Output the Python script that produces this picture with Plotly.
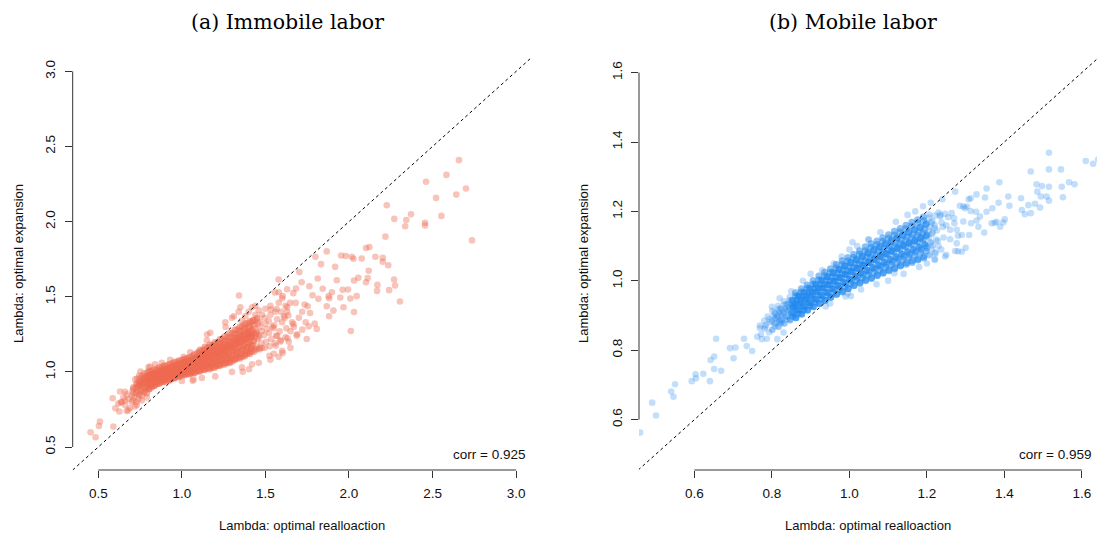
import plotly.graph_objects as go

# ---------------- data ----------------
# (a) Immobile labor: (realloaction lambda, expansion lambda)
immobile_core = [
    (0.715,0.83),(0.725,0.86),(0.71,0.89),(0.73,0.92),(0.72,0.95),(0.705,0.875),(0.728,0.80),
    (0.748,0.85),(0.755,0.88),(0.742,0.90),(0.758,0.93),(0.751,0.96),(0.745,0.975),(0.76,0.84),(0.75,0.915),
    (0.776,0.87),(0.784,0.895),(0.772,0.92),(0.788,0.945),(0.78,0.97),(0.775,0.99),(0.79,0.86),(0.782,0.93),(0.77,0.955),
    (0.806,0.89),(0.815,0.915),(0.802,0.94),(0.818,0.96),(0.81,0.985),(0.805,1.005),(0.82,0.90),(0.812,0.95),(0.80,0.97),
    (0.836,0.91),(0.845,0.93),(0.832,0.955),(0.848,0.975),(0.84,0.995),(0.835,1.015),(0.85,0.92),(0.842,0.965),(0.83,0.985),
    (0.866,0.925),(0.875,0.945),(0.862,0.97),(0.878,0.99),(0.87,1.01),(0.865,1.03),(0.88,0.935),(0.872,0.98),(0.86,1.00),(0.874,0.96),
    (0.896,0.935),(0.905,0.955),(0.892,0.98),(0.908,1.0),(0.90,1.02),(0.895,1.04),(0.91,0.945),(0.902,0.99),(0.89,1.01),(0.904,0.97),
    (0.926,0.945),(0.935,0.965),(0.922,0.99),(0.938,1.01),(0.93,1.03),(0.925,1.05),(0.94,0.955),(0.932,1.0),(0.92,1.02),(0.934,0.98),
    (0.956,0.96),(0.965,0.98),(0.952,1.005),(0.968,1.025),(0.96,1.045),(0.955,1.065),(0.97,0.97),(0.962,1.015),(0.95,1.035),(0.964,0.995),
    (0.986,0.97),(0.995,0.99),(0.982,1.015),(0.998,1.035),(0.99,1.055),(0.985,1.075),(1.0,0.98),(0.992,1.025),(0.98,1.045),(0.994,1.005),
    (1.016,0.98),(1.025,1.0),(1.012,1.025),(1.028,1.045),(1.02,1.065),(1.015,1.085),(1.03,0.99),(1.022,1.035),(1.01,1.055),(1.024,1.015),
    (1.046,0.985),(1.055,1.005),(1.042,1.03),(1.058,1.055),(1.05,1.075),(1.045,1.095),(1.06,0.995),(1.052,1.045),(1.04,1.065),(1.054,1.02),
    (1.076,0.995),(1.085,1.02),(1.072,1.045),(1.088,1.07),(1.08,1.09),(1.075,1.115),(1.09,1.005),(1.082,1.06),(1.07,1.08),(1.084,1.035),
    (1.106,1.005),(1.115,1.03),(1.102,1.055),(1.118,1.08),(1.11,1.105),(1.105,1.13),(1.12,1.015),(1.112,1.075),(1.10,1.095),(1.114,1.045),(1.108,1.145),
    (1.136,1.015),(1.145,1.04),(1.132,1.065),(1.148,1.095),(1.14,1.12),(1.135,1.145),(1.15,1.025),(1.142,1.09),(1.13,1.11),(1.144,1.055),(1.138,1.165),
    (1.166,1.02),(1.175,1.045),(1.162,1.075),(1.178,1.105),(1.17,1.13),(1.165,1.16),(1.18,1.03),(1.172,1.10),(1.16,1.12),(1.174,1.06),(1.168,1.18),
    (1.196,1.03),(1.205,1.055),(1.192,1.085),(1.208,1.12),(1.20,1.145),(1.195,1.175),(1.21,1.04),(1.202,1.115),(1.19,1.135),(1.204,1.07),(1.198,1.195),
    (1.226,1.04),(1.235,1.07),(1.222,1.10),(1.238,1.135),(1.23,1.16),(1.225,1.19),(1.24,1.05),(1.232,1.13),(1.22,1.15),(1.234,1.085),(1.228,1.215),
    (1.256,1.05),(1.265,1.08),(1.252,1.115),(1.268,1.15),(1.26,1.175),(1.255,1.205),(1.27,1.06),(1.262,1.145),(1.25,1.165),(1.264,1.10),(1.258,1.235),
    (1.286,1.06),(1.295,1.09),(1.282,1.13),(1.298,1.165),(1.29,1.19),(1.285,1.225),(1.30,1.07),(1.292,1.16),(1.28,1.18),(1.294,1.11),(1.288,1.255),
    (1.316,1.08),(1.325,1.11),(1.312,1.15),(1.328,1.19),(1.32,1.215),(1.315,1.25),(1.33,1.09),(1.322,1.185),(1.31,1.205),(1.324,1.13),(1.318,1.28),
    (1.346,1.09),(1.355,1.125),(1.342,1.165),(1.358,1.205),(1.35,1.235),(1.345,1.27),(1.36,1.10),(1.352,1.20),(1.34,1.22),(1.354,1.145),(1.348,1.30),
    (1.376,1.105),(1.385,1.14),(1.372,1.18),(1.388,1.225),(1.38,1.255),(1.375,1.29),(1.39,1.12),(1.382,1.22),(1.37,1.24),(1.384,1.16),(1.378,1.32),
    (1.406,1.12),(1.415,1.155),(1.402,1.195),(1.418,1.24),(1.41,1.27),(1.405,1.305),(1.42,1.135),(1.412,1.235),(1.40,1.255),(1.414,1.175),(1.408,1.335),
    (1.436,1.135),(1.445,1.17),(1.432,1.21),(1.448,1.255),(1.44,1.285),(1.435,1.32),(1.45,1.15),(1.442,1.25),(1.43,1.345),
    (1.466,1.15),(1.475,1.19),(1.462,1.23),(1.478,1.27),(1.47,1.30),(1.465,1.335),(1.48,1.16),
    (1.496,1.16),(1.505,1.20),(1.492,1.245),(1.508,1.285),(1.50,1.32),(1.495,1.36),
    (1.526,1.17),(1.535,1.22),(1.522,1.26),(1.54,1.30),(1.53,1.38),
    (1.556,1.19),(1.565,1.24),(1.552,1.31),(1.57,1.35),
    (1.59,1.21),(1.585,1.27),(1.60,1.33),(1.595,1.40),
    (1.62,1.23),(1.625,1.29),(1.615,1.36),(1.63,1.43),
]
immobile_core_fill = [
    (0.743,0.844),(0.732,0.862),(0.739,0.879),(0.726,0.893),(0.737,0.907),(0.729,0.921),(0.744,0.939),(0.734,0.956),
    (0.773,0.864),(0.762,0.882),(0.769,0.899),(0.756,0.913),(0.767,0.927),(0.759,0.941),(0.774,0.959),(0.764,0.976),
    (0.803,0.886),(0.792,0.903),(0.799,0.920),(0.786,0.933),(0.797,0.947),(0.789,0.960),(0.804,0.977),(0.794,0.994),
    (0.833,0.907),(0.822,0.923),(0.829,0.938),(0.816,0.951),(0.827,0.963),(0.819,0.976),(0.834,0.991),(0.824,1.007),
    (0.863,0.924),(0.852,0.939),(0.859,0.954),(0.846,0.966),(0.857,0.978),(0.849,0.990),(0.864,1.005),(0.854,1.020),
    (0.893,0.937),(0.882,0.952),(0.889,0.967),(0.876,0.979),(0.887,0.991),(0.879,1.003),(0.894,1.018),(0.884,1.033),
    (0.923,0.947),(0.912,0.962),(0.919,0.977),(0.906,0.989),(0.917,1.001),(0.909,1.013),(0.924,1.028),(0.914,1.043),
    (0.953,0.960),(0.942,0.975),(0.949,0.990),(0.936,1.002),(0.947,1.014),(0.939,1.026),(0.954,1.041),(0.944,1.056),
    (0.983,0.972),(0.972,0.987),(0.979,1.002),(0.966,1.014),(0.977,1.026),(0.969,1.038),(0.984,1.053),(0.974,1.068),
    (1.013,0.982),(1.002,0.997),(1.009,1.012),(0.996,1.024),(1.007,1.036),(0.999,1.048),(1.014,1.063),(1.004,1.078),
    (1.043,0.990),(1.032,1.006),(1.039,1.021),(1.026,1.034),(1.037,1.046),(1.029,1.059),(1.044,1.074),(1.034,1.090),
    (1.073,0.998),(1.062,1.015),(1.069,1.032),(1.056,1.045),(1.067,1.059),(1.059,1.072),(1.074,1.089),(1.064,1.106),
    (1.103,1.009),(1.092,1.027),(1.099,1.045),(1.086,1.060),(1.097,1.074),(1.089,1.089),(1.104,1.107),(1.094,1.125),
    (1.133,1.020),(1.122,1.039),(1.129,1.059),(1.116,1.074),(1.127,1.090),(1.119,1.105),(1.134,1.125),(1.124,1.144),
    (1.163,1.029),(1.152,1.050),(1.159,1.070),(1.146,1.087),(1.157,1.103),(1.149,1.120),(1.164,1.140),(1.154,1.161),
    (1.193,1.038),(1.182,1.060),(1.189,1.082),(1.176,1.099),(1.187,1.117),(1.179,1.134),(1.194,1.156),(1.184,1.178),
    (1.223,1.048),(1.212,1.071),(1.219,1.094),(1.206,1.113),(1.217,1.131),(1.209,1.150),(1.224,1.173),(1.214,1.196),
    (1.253,1.060),(1.242,1.084),(1.249,1.109),(1.236,1.128),(1.247,1.148),(1.239,1.167),(1.254,1.192),(1.244,1.216),
    (1.283,1.070),(1.272,1.096),(1.279,1.121),(1.266,1.142),(1.277,1.162),(1.269,1.183),(1.284,1.208),(1.274,1.234),
    (1.313,1.086),(1.302,1.113),(1.309,1.140),(1.296,1.161),(1.307,1.183),(1.299,1.204),(1.314,1.231),(1.304,1.258),
    (1.343,1.102),(1.332,1.130),(1.339,1.158),(1.326,1.181),(1.337,1.203),(1.329,1.226),(1.344,1.254),(1.334,1.282),
    (1.373,1.116),(1.362,1.145),(1.369,1.175),(1.356,1.198),(1.367,1.222),(1.359,1.245),(1.374,1.275),(1.364,1.304),
    (1.403,1.132),(1.392,1.162),(1.399,1.192),(1.386,1.216),(1.397,1.240),(1.389,1.264),(1.404,1.294),(1.394,1.324),
    (1.433,1.147),(1.422,1.177),(1.429,1.207),(1.416,1.231),(1.427,1.255),(1.419,1.279),(1.434,1.309),(1.424,1.339),
    (1.463,1.159),(1.452,1.219),(1.459,1.243),(1.446,1.267),(1.457,1.321),(1.449,1.351),
]
immobile_spread = [
    (2.658,2.409),(2.583,2.311),(2.461,2.265),(2.642,2.180),(2.700,2.220),(2.521,2.158),(2.226,2.109),
    (2.371,2.049),(2.343,2.011),(2.271,2.018),(2.336,1.969),(2.455,1.993),(2.455,1.975),(2.553,2.038),
    (2.736,1.875),(2.218,1.900),(2.122,1.831),(2.102,1.824),(1.867,1.802),(1.799,1.766),(1.953,1.775),
    (1.981,1.771),(2.017,1.766),(2.027,1.753),(2.076,1.755),(2.158,1.766),(2.202,1.759),(2.202,1.733),
    (2.235,1.710),(1.833,1.717),(1.917,1.699),(2.118,1.673),(2.056,1.626),(2.030,1.608),(2.102,1.597),
    (2.112,1.624),(2.270,1.615),(2.276,1.575),(2.240,1.544),(2.170,1.579),(2.168,1.539),(2.305,1.468),
    (1.813,1.621),(1.927,1.610),(1.763,1.570),(1.843,1.553),(1.898,1.530),(1.962,1.546),(1.994,1.548),
    (2.046,1.504),(2.008,1.488),(1.948,1.495),(1.878,1.504),(1.882,1.490),(1.782,1.510),(1.817,1.486),
    (1.867,1.437),(1.907,1.408),(1.967,1.430),(2.030,1.399),(1.881,1.370),(2.011,1.272),(1.703,1.664),
    (1.717,1.597),(1.683,1.555),(1.667,1.524),(1.681,1.459),(1.735,1.448),(1.753,1.437),(1.767,1.392),
    (1.795,1.321),(1.807,1.286),(1.747,1.219),(1.687,1.241),(1.667,1.319),(1.741,1.330),(1.759,1.303),
    (1.721,1.281),(1.579,1.615),(1.557,1.528),(1.603,1.504),(1.647,1.459),(1.342,1.508),(1.532,1.415),
    (1.567,1.419),(1.637,1.375),(1.632,1.223),(1.591,1.203),(1.563,1.174),(1.603,1.125),(1.524,1.107),
    (1.311,1.370),(1.262,1.299),(1.151,1.248),(0.454,0.598),(0.484,0.565),(0.504,0.640),(0.510,0.669),
    (0.590,0.636),(0.586,0.825),(0.602,0.758),(0.630,0.869),(0.660,0.867),(0.636,0.796),(0.626,0.736),
    (0.670,0.740),(0.710,0.898),(0.708,0.858),(0.752,1.003),(0.810,1.036),(0.746,0.925),(1.065,0.941),
    (1.364,1.001),(1.402,1.018),
    (0.80,1.03),(0.84,1.05),(0.88,1.06),(0.93,1.08),(1.01,1.10),(1.05,1.13),(1.15,1.21),(1.17,1.26),
    (1.26,1.33),(1.30,1.36),(1.34,1.40),(1.35,1.43),(1.0,0.94),(1.07,0.95),(1.12,0.96),(1.20,0.97),
    (1.30,1.0),(1.36,1.03),(1.42,1.05),(1.46,1.06),(1.53,1.08),(1.58,1.10),(1.60,1.14),(1.65,1.16),
    (1.55,1.12),(1.50,1.42),(1.53,1.44),(1.56,1.40),(1.58,1.46),(1.61,1.37),(1.63,1.40),(1.62,1.44),
    (1.66,1.33),(1.65,1.27),(1.64,1.20),(1.67,1.30),(1.69,1.25),(1.70,1.36),(1.72,1.40),(1.60,1.49),
    (1.58,1.53),(1.63,1.55),(1.57,1.24),(1.55,1.29),(1.52,1.34),(1.48,1.38),(1.46,1.41),(1.44,1.38),
    (0.64,0.80),(0.66,0.78),(0.68,0.82),(0.69,0.76),(0.65,0.83),(0.67,0.85),(0.70,0.80),(0.62,0.79),
    (0.68,0.745),(0.70,0.84),(0.66,0.81),(0.73,0.78),(0.76,0.81),(0.74,0.82),(0.79,0.83),(0.72,0.77),(0.71,0.81),
    (1.40,1.40),(1.42,1.43),(1.38,1.37),(1.44,1.44),(1.45,1.36),(1.36,1.34),
]

# (b) Mobile labor
mobile_core = [
    (0.772,0.846),(0.781,0.862),(0.769,0.871),(0.780,0.885),
    (0.793,0.852),(0.785,0.873),(0.795,0.881),(0.789,0.897),
    (0.802,0.860),(0.808,0.869),(0.806,0.877),(0.800,0.884),(0.810,0.890),(0.804,0.898),(0.809,0.905),(0.801,0.914),
    (0.817,0.868),(0.823,0.878),(0.821,0.886),(0.815,0.895),(0.825,0.901),(0.819,0.910),(0.824,0.918),(0.816,0.928),
    (0.832,0.877),(0.838,0.888),(0.836,0.897),(0.830,0.906),(0.840,0.913),(0.834,0.921),(0.839,0.930),(0.831,0.941),
    (0.847,0.887),(0.853,0.898),(0.851,0.907),(0.845,0.916),(0.855,0.924),(0.849,0.933),(0.854,0.942),(0.846,0.953),
    (0.862,0.894),(0.868,0.906),(0.866,0.916),(0.860,0.926),(0.870,0.934),(0.864,0.944),(0.869,0.954),(0.861,0.966),
    (0.877,0.905),(0.883,0.917),(0.881,0.927),(0.875,0.937),(0.885,0.945),(0.879,0.955),(0.884,0.965),(0.876,0.977),
    (0.892,0.916),(0.898,0.928),(0.896,0.938),(0.890,0.948),(0.900,0.956),(0.894,0.966),(0.899,0.976),(0.891,0.988),
    (0.907,0.925),(0.913,0.938),(0.911,0.948),(0.905,0.959),(0.915,0.967),(0.909,0.978),(0.914,0.988),(0.906,1.001),
    (0.922,0.934),(0.928,0.948),(0.926,0.959),(0.920,0.970),(0.930,0.979),(0.924,0.989),(0.929,1.000),(0.921,1.014),
    (0.937,0.943),(0.943,0.957),(0.941,0.968),(0.935,0.980),(0.945,0.989),(0.939,1.000),(0.944,1.011),(0.936,1.025),
    (0.952,0.953),(0.958,0.966),(0.956,0.978),(0.950,0.989),(0.960,0.999),(0.954,1.010),(0.959,1.022),(0.951,1.035),
    (0.967,0.961),(0.973,0.975),(0.971,0.987),(0.965,0.999),(0.975,1.009),(0.969,1.021),(0.974,1.033),(0.966,1.047),
    (0.982,0.968),(0.988,0.983),(0.986,0.996),(0.980,1.008),(0.990,1.018),(0.984,1.031),(0.989,1.043),(0.981,1.058),
    (0.997,0.977),(1.003,0.992),(1.001,1.005),(0.995,1.017),(1.005,1.027),(0.999,1.040),(1.004,1.052),(0.996,1.067),
    (1.012,0.986),(1.018,1.001),(1.016,1.014),(1.010,1.026),(1.020,1.036),(1.014,1.049),(1.019,1.061),(1.011,1.076),
    (1.027,0.993),(1.033,1.009),(1.031,1.022),(1.025,1.035),(1.035,1.045),(1.029,1.058),(1.034,1.071),(1.026,1.087),
    (1.042,1.000),(1.048,1.017),(1.046,1.030),(1.040,1.044),(1.050,1.054),(1.044,1.068),(1.049,1.081),(1.041,1.098),
    (1.057,1.007),(1.063,1.024),(1.061,1.038),(1.055,1.052),(1.065,1.063),(1.059,1.076),(1.064,1.090),(1.056,1.107),
    (1.072,1.015),(1.078,1.031),(1.076,1.045),(1.070,1.059),(1.080,1.071),(1.074,1.085),(1.079,1.099),(1.071,1.115),
    (1.087,1.022),(1.093,1.039),(1.091,1.053),(1.085,1.067),(1.095,1.079),(1.089,1.093),(1.094,1.107),(1.086,1.124),
    (1.102,1.029),(1.108,1.046),(1.106,1.061),(1.100,1.075),(1.110,1.087),(1.104,1.101),(1.109,1.116),(1.101,1.133),
    (1.117,1.035),(1.123,1.053),(1.121,1.068),(1.115,1.083),(1.125,1.095),(1.119,1.110),(1.124,1.125),(1.116,1.143),
    (1.132,1.043),(1.138,1.061),(1.136,1.076),(1.130,1.091),(1.140,1.103),(1.134,1.118),(1.139,1.133),(1.131,1.151),
    (1.147,1.048),(1.153,1.067),(1.151,1.082),(1.145,1.098),(1.155,1.110),(1.149,1.126),(1.154,1.141),(1.146,1.160),
    (1.162,1.053),(1.168,1.073),(1.166,1.089),(1.160,1.105),(1.170,1.117),(1.164,1.133),(1.169,1.149),(1.161,1.169),
    (1.177,1.060),(1.183,1.080),(1.181,1.096),(1.175,1.112),(1.185,1.124),(1.179,1.140),(1.184,1.156),(1.176,1.176),
    (1.192,1.066),(1.198,1.085),(1.196,1.102),(1.190,1.118),(1.200,1.132),(1.194,1.148),(1.199,1.165),(1.191,1.184),
    (1.207,1.073),(1.213,1.092),(1.211,1.109),(1.205,1.125),(1.215,1.139),(1.209,1.155),(1.214,1.172),(1.206,1.191),
    (1.222,1.079),(1.228,1.115),(1.226,1.145),(1.220,1.161),(1.230,1.197),
    (1.237,1.090),(1.243,1.125),(1.241,1.155),(1.235,1.190),
]
mobile_core_fill = [
    (0.817,0.868),(0.810,0.877),(0.819,0.885),(0.808,0.893),(0.815,0.901),(0.807,0.909),(0.816,0.918),
    (0.832,0.877),(0.825,0.887),(0.834,0.895),(0.823,0.904),(0.830,0.912),(0.822,0.921),(0.831,0.931),
    (0.847,0.886),(0.840,0.897),(0.849,0.906),(0.838,0.915),(0.845,0.924),(0.837,0.933),(0.846,0.944),
    (0.862,0.894),(0.855,0.906),(0.864,0.916),(0.853,0.925),(0.860,0.935),(0.852,0.944),(0.861,0.956),
    (0.877,0.904),(0.870,0.916),(0.879,0.926),(0.868,0.936),(0.875,0.946),(0.867,0.956),(0.876,0.968),
    (0.892,0.915),(0.885,0.927),(0.894,0.937),(0.883,0.947),(0.890,0.957),(0.882,0.967),(0.891,0.979),
    (0.907,0.925),(0.900,0.937),(0.909,0.948),(0.898,0.958),(0.905,0.968),(0.897,0.978),(0.906,0.991),
    (0.922,0.935),(0.915,0.947),(0.924,0.958),(0.913,0.969),(0.920,0.980),(0.912,0.990),(0.921,1.003),
    (0.937,0.943),(0.930,0.957),(0.939,0.968),(0.928,0.979),(0.935,0.990),(0.927,1.001),(0.936,1.015),
    (0.952,0.953),(0.945,0.966),(0.954,0.978),(0.943,0.989),(0.950,1.000),(0.942,1.012),(0.951,1.025),
    (0.967,0.961),(0.960,0.976),(0.969,0.987),(0.958,0.999),(0.965,1.011),(0.957,1.023),(0.966,1.037),
    (0.982,0.970),(0.975,0.984),(0.984,0.997),(0.973,1.009),(0.980,1.021),(0.972,1.033),(0.981,1.048),
    (0.997,0.978),(0.990,0.993),(0.999,1.005),(0.988,1.018),(0.995,1.030),(0.987,1.043),(0.996,1.058),
    (1.012,0.987),(1.005,1.002),(1.014,1.014),(1.003,1.027),(1.010,1.039),(1.002,1.052),(1.011,1.067),
    (1.027,0.995),(1.020,1.010),(1.029,1.023),(1.018,1.036),(1.025,1.049),(1.017,1.061),(1.026,1.077),
    (1.042,1.003),(1.035,1.018),(1.044,1.032),(1.033,1.045),(1.040,1.058),(1.032,1.071),(1.041,1.087),
    (1.057,1.009),(1.050,1.026),(1.059,1.039),(1.048,1.053),(1.055,1.067),(1.047,1.080),(1.056,1.097),
    (1.072,1.017),(1.065,1.034),(1.074,1.047),(1.063,1.061),(1.070,1.075),(1.062,1.088),(1.071,1.105),
    (1.087,1.024),(1.080,1.041),(1.089,1.055),(1.078,1.069),(1.085,1.083),(1.077,1.097),(1.086,1.114),
    (1.102,1.031),(1.095,1.048),(1.104,1.063),(1.093,1.077),(1.100,1.091),(1.092,1.106),(1.101,1.123),
    (1.117,1.038),(1.110,1.056),(1.119,1.070),(1.108,1.085),(1.115,1.100),(1.107,1.115),(1.116,1.132),
    (1.132,1.045),(1.125,1.063),(1.134,1.078),(1.123,1.093),(1.130,1.108),(1.122,1.123),(1.131,1.141),
    (1.147,1.052),(1.140,1.070),(1.149,1.085),(1.138,1.101),(1.145,1.116),(1.137,1.131),(1.146,1.150),
    (1.162,1.058),(1.155,1.076),(1.164,1.092),(1.153,1.108),(1.160,1.124),(1.152,1.139),(1.161,1.158),
    (1.177,1.063),(1.170,1.083),(1.179,1.099),(1.168,1.115),(1.175,1.131),(1.167,1.147),(1.176,1.167),
    (1.192,1.070),(1.185,1.090),(1.194,1.106),(1.183,1.122),(1.190,1.138),(1.182,1.154),(1.191,1.174),
    (1.207,1.076),(1.200,1.096),(1.209,1.112),(1.198,1.129),(1.205,1.145),(1.197,1.162),(1.206,1.182),
    (1.222,1.082),(1.215,1.102),(1.224,1.119),(1.213,1.135),(1.220,1.152),(1.212,1.168),(1.221,1.188),
]
mobile_spread = [
    (0.460,0.563),(0.501,0.612),(0.491,0.649),(0.546,0.666),(0.540,0.681),(0.550,0.702),(0.593,0.711),
    (0.604,0.719),(0.603,0.731),(0.623,0.732),(0.640,0.711),(0.651,0.746),(0.669,0.741),(0.642,0.772),
    (0.651,0.782),(0.701,0.777),(0.692,0.806),(0.706,0.808),(0.656,0.833),(0.728,0.833),(0.735,0.812),
    (0.749,0.798),(0.762,0.839),(0.774,0.832),(0.787,0.833),(0.769,0.864),(0.783,0.868),(0.793,0.889),
    (0.800,0.858),(0.814,0.832),(0.830,0.851),(0.825,0.882),(0.847,0.889),(0.844,0.935),(0.855,0.926),
    (0.939,0.926),(1.004,0.956),(0.996,0.964),(1.008,1.111),(1.049,1.118),(1.116,1.022),(1.273,1.257),
    (1.354,1.266),(1.387,1.284),(1.410,1.243),(1.443,1.238),(1.445,1.204),(1.413,1.216),(1.385,1.225),
    (1.369,1.209),(1.350,1.240),(1.328,1.249),(1.313,1.238),(1.298,1.209),(1.285,1.216),(1.462,1.218),
    (1.453,1.192),(1.468,1.195),(1.483,1.278),(1.497,1.273),(1.515,1.271),(1.485,1.257),(1.494,1.243),
    (1.509,1.243),(1.515,1.231),(1.492,1.211),(1.479,1.222),(1.548,1.271),(1.567,1.284),(1.581,1.278),
    (1.551,1.241),(1.468,1.315),(1.515,1.321),(1.515,1.369),(1.546,1.321),(1.610,1.345),(1.629,1.337),
    (1.642,1.350),
    (1.367,1.166),(1.375,1.167),(1.380,1.170),(1.397,1.168),(1.401,1.177),(1.389,1.156),(1.348,1.139),
    (1.328,1.174),(1.333,1.156),(1.314,1.166),(1.294,1.171),(1.277,1.147),(1.290,1.132),(1.309,1.132),
    (1.327,1.199),(1.354,1.199),(1.337,1.185),(1.313,1.201),(1.294,1.214),(1.264,1.195),(1.255,1.183),
    (1.247,1.193),(1.234,1.185),(1.238,1.168),(1.271,1.166),(1.260,1.147),(1.277,1.108),(1.290,1.084),
    (1.273,1.086),(1.247,1.070),(1.221,1.063),(1.303,1.214),(1.308,1.235),
    (0.93,1.03),(0.96,1.05),(0.98,1.07),(1.0,1.09),(1.02,1.10),(1.05,1.12),(1.08,1.14),(1.12,1.17),
    (1.15,1.19),(1.17,1.20),(1.19,1.215),(1.21,1.225),(1.24,1.235),(0.88,1.0),(0.90,1.02),(0.85,0.97),
    (0.82,0.95),(0.80,0.925),(0.95,0.935),(0.99,0.955),(1.03,0.975),(1.07,0.99),(1.10,1.0),(1.14,1.02),
    (1.18,1.04),(1.20,1.05),(1.22,1.06),(1.25,1.075),(1.28,1.085),(1.30,1.095),(0.86,0.90),(0.88,0.915),
    (0.87,0.96),(0.90,0.93),(1.26,1.12),(1.25,1.16),(1.23,1.10),(1.27,1.18),(1.28,1.13),
]

panel_titles = ["(a) Immobile labor", "(b) Mobile labor"]
corr_labels = ["corr = 0.925", "corr = 0.959"]
x_title = "Lambda: optimal realloaction"
y_title = "Lambda: optimal expansion"
imm_ticks = [0.5, 1.0, 1.5, 2.0, 2.5, 3.0]
imm_ticktext = ["0.5", "1.0", "1.5", "2.0", "2.5", "3.0"]
mob_ticks = [0.6, 0.8, 1.0, 1.2, 1.4, 1.6]
mob_ticktext = ["0.6", "0.8", "1.0", "1.2", "1.4", "1.6"]
imm_range = [0.347, 3.089]
mob_xrange = [0.457, 1.639]
mob_yrange = [0.455, 1.642]
# x-extent of the darkest (most crowded) part of each cloud
imm_dense_span = [0.78, 1.43]
mob_dense_span = [0.85, 1.20]

# ---------------- figure ----------------
W, H = 1099, 538
def px(x): return x / W
def py(y): return 1 - y / H

dom_left = [px(72.7), px(531)]
dom_right = [px(639), px(1097)]
dom_y = [py(470), py(58)]

SANS = "Liberation Sans, Arial, Helvetica, sans-serif"
SERIF = "DejaVu Serif, Palatino, serif"
RED_LIGHT = "rgba(238,106,80,0.40)"
RED_CORE = "rgba(238,106,80,0.55)"
BLUE_LIGHT = "rgba(28,134,238,0.27)"
BLUE_CORE = "rgba(28,134,238,0.52)"

fig = go.Figure()

def split(pts_lists, span):
    inside, outside = [], []
    for pts in pts_lists:
        for p in pts:
            (inside if span[0] <= p[0] <= span[1] else outside).append(p)
    return inside, outside

def add_points(pts, color, xa, ya, size=6.6):
    fig.add_trace(go.Scatter(x=[p[0] for p in pts], y=[p[1] for p in pts], mode="markers",
                             xaxis=xa, yaxis=ya,
                             marker=dict(size=size, color=color, line=dict(width=0)),
                             showlegend=False, hoverinfo="skip"))

imm_in, imm_out = split([immobile_core, immobile_core_fill], imm_dense_span)
add_points(immobile_spread + imm_out, RED_LIGHT, "x", "y")
add_points(imm_in, RED_CORE, "x", "y", 7)

mob_in, mob_out = split([mobile_core, mobile_core_fill], mob_dense_span)
add_points(mobile_spread + mob_out, BLUE_LIGHT, "x2", "y2")
add_points(mob_in, BLUE_CORE, "x2", "y2", 7)

# 45-degree reference lines
lo, hi = min(imm_range), max(imm_range)
fig.add_trace(go.Scatter(x=[lo, hi], y=[lo, hi], mode="lines", xaxis="x", yaxis="y",
                         line=dict(color="black", width=1, dash="3px,3px"),
                         showlegend=False, hoverinfo="skip"))
lo2, hi2 = min(mob_xrange[0], mob_yrange[0]), max(mob_xrange[1], mob_yrange[1])
fig.add_trace(go.Scatter(x=[lo2, hi2], y=[lo2, hi2], mode="lines", xaxis="x2", yaxis="y2",
                         line=dict(color="black", width=1, dash="3px,3px"),
                         showlegend=False, hoverinfo="skip"))

def axis(domain, rng, ticks, text, anchor, angle=0):
    return dict(domain=domain, range=rng, tickvals=ticks, ticktext=text, anchor=anchor,
                ticks="outside", ticklen=7, tickwidth=1, tickcolor="#333",
                showline=False, showgrid=False, zeroline=False, tickangle=angle,
                ticklabelstandoff=4,
                tickfont=dict(family=SANS, size=13.5, color="#111"), fixedrange=True)

fig.update_layout(
    width=W, height=H, margin=dict(l=0, r=0, t=0, b=0),
    paper_bgcolor="white", plot_bgcolor="white",
    xaxis=axis(dom_left, imm_range, imm_ticks, imm_ticktext, "y"),
    yaxis=axis(dom_y, imm_range, imm_ticks, imm_ticktext, "x", -90),
    xaxis2=axis(dom_right, mob_xrange, mob_ticks, mob_ticktext, "y2"),
    yaxis2=axis(dom_y, mob_yrange, mob_ticks, mob_ticktext, "x2", -90),
)

# R-style axis lines spanning first to last tick
shapes = []
for xref, ticks in [("x", imm_ticks), ("x2", mob_ticks)]:
    shapes.append(dict(type="line", xref=xref, yref="paper", x0=ticks[0], x1=ticks[-1],
                       y0=dom_y[0], y1=dom_y[0], line=dict(color="#333", width=1)))
for yref, ticks, xd in [("y", imm_ticks, dom_left), ("y2", mob_ticks, dom_right)]:
    shapes.append(dict(type="line", xref="paper", yref=yref, x0=xd[0], x1=xd[0],
                       y0=ticks[0], y1=ticks[-1], line=dict(color="#333", width=1)))
fig.update_layout(shapes=shapes)

ann = []
for i, (cx_title, cx_plot, xl, corr_x) in enumerate([(287, 301.9, 18, 527), (853, 868, 583, 1093)]):
    ann.append(dict(text=panel_titles[i], x=px(cx_title), y=py(22), xref="paper", yref="paper",
                    showarrow=False, xanchor="center", yanchor="middle",
                    font=dict(family=SERIF, size=20.5, color="black")))
    ann.append(dict(text=x_title, x=px(cx_plot), y=py(525), xref="paper", yref="paper",
                    showarrow=False, xanchor="center", yanchor="middle",
                    font=dict(family=SANS, size=13, color="#111")))
    ann.append(dict(text=y_title, x=px(xl), y=py(264), xref="paper", yref="paper",
                    showarrow=False, xanchor="center", yanchor="middle", textangle=-90,
                    font=dict(family=SANS, size=13, color="#111")))
    ann.append(dict(text=corr_labels[i], x=px(corr_x), y=py(454), xref="paper", yref="paper",
                    showarrow=False, xanchor="right", yanchor="middle",
                    font=dict(family=SANS, size=13.5, color="#111")))
fig.update_layout(annotations=ann)

fig.write_html("out.html", config={"displayModeBar": False},
               post_script="document.body.style.margin='0px';document.body.style.padding='0px';")
